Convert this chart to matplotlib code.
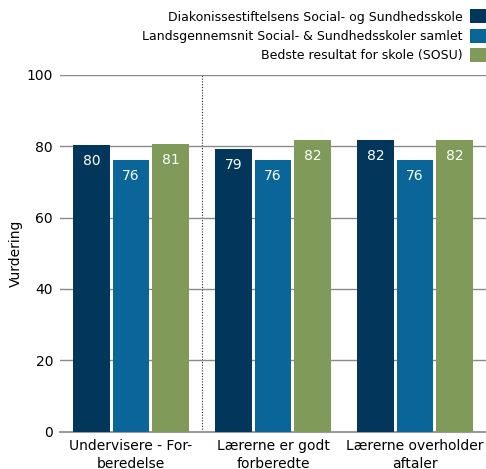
import matplotlib
matplotlib.use("Agg")
import matplotlib.pyplot as plt
import numpy as np

categories = ["Undervisere - For-\nberedelse", "Lærerne er godt\nforberedte", "Lærerne overholder\naftaler"]
series_names = ["Diakonissestiftelsens Social- og Sundhedsskole",
                "Landsgennemsnit Social- & Sundhedsskoler samlet",
                "Bedste resultat for skole (SOSU)"]
skole = [80.3, 79.2, 81.7]
landsgns = [76.1, 76.1, 76.1]
bedste = [80.6, 81.7, 81.7]
yticks = [0, 20, 40, 60, 80, 100]

colors = ["#02365a", "#0a6598", "#7f9a59"]

fig = plt.figure(figsize=(4.86, 4.69), dpi=100)
ax = fig.add_axes([0.1235, 0.0795, 0.8765, 0.761])

x = np.arange(len(categories))
w = 0.255
step = 0.278
for i, (vals, col, name) in enumerate(zip([skole, landsgns, bedste], colors, series_names)):
    pos = x + (i - 1) * step
    bars = ax.bar(pos, vals, width=w, color=col, label=name, zorder=3)
    for b, v in zip(bars, vals):
        ax.text(b.get_x() + b.get_width() / 2, v - 4.5, str(int(round(v))),
                ha="center", va="center", color="white", fontsize=10, zorder=4)

ax.set_xlim(-0.5, 2.5)
ax.set_ylim(0, 100)
ax.set_yticks(yticks)
ax.yaxis.grid(True, color="#8a8a8a", linewidth=1.0, zorder=0)
ax.axvline(0.5, ymin=0, ymax=1, color="#222222", linestyle=(0, (1, 1.5)), linewidth=0.8, zorder=1)
for s in ["top", "right", "left"]:
    ax.spines[s].set_visible(False)
ax.spines["bottom"].set_color("#9a9a9a")
ax.spines["bottom"].set_linewidth(1.5)
ax.tick_params(axis="both", length=0, labelsize=10, colors="#000000")
ax.tick_params(axis="y", pad=5)
ax.tick_params(axis="x", pad=5)
ax.set_xticks(x)
ax.set_xticklabels(categories, linespacing=1.35)
ax.set_ylabel("Vurdering", fontsize=10)
ax.yaxis.set_label_coords(-0.088, 0.5)

fig.legend(loc="upper right", bbox_to_anchor=(1.0, 0.98), frameon=False,
           markerfirst=False, fontsize=9, handlelength=1.3, handleheight=1.36,
           handletextpad=0.6, labelspacing=0.4, borderaxespad=0, borderpad=0)

fig.savefig("out.png", dpi=100)
